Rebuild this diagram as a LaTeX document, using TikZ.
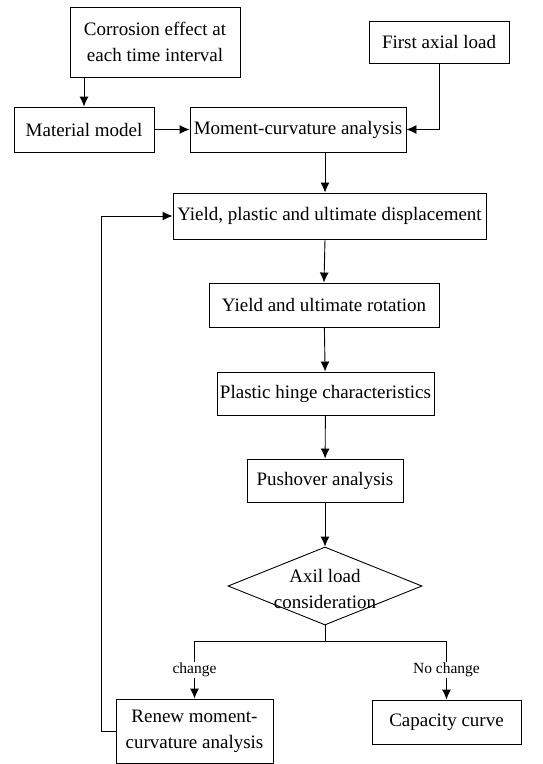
\documentclass[tikz,border=0pt]{standalone}
\usepackage{fontspec}
\setmainfont{Liberation Serif}
\usetikzlibrary{arrows, arrows.meta, positioning, shapes.geometric}

\begin{document}
\begin{tikzpicture}[x=1pt,y=-1pt,>={Latex[length=10pt,width=9pt]},line width=0.9pt,
    font=\fontsize{19}{26}\selectfont]
  \tikzstyle{block}=[draw, rectangle, inner sep=0pt, align=center]
  \tikzstyle{choice}=[draw, diamond, inner sep=0pt]
  \tikzstyle{tag}=[fill=white, inner sep=1pt, font=\fontsize{15.5}{18}\selectfont]

  \useasboundingbox (0,0) rectangle (542,764);

  \node[block,minimum width=170pt,minimum height=70pt] (corr)  at (155,42)    {Corrosion effect at\\each time interval};
  \node[block,minimum width=140pt,minimum height=42pt] (axial) at (439,42)    {First axial load};
  \node[block,minimum width=140pt,minimum height=45pt] (mat)   at (84,129.5)  {Material model};
  \node[block,minimum width=216pt,minimum height=45pt] (mc)    at (298,129.5) {Moment-curvature analysis};
  \node[block,minimum width=313pt,minimum height=46pt] (ypu)   at (329.5,216) {Yield, plastic and ultimate displacement};
  \node[block,minimum width=230pt,minimum height=44pt] (yur)   at (324,305)   {Yield and ultimate rotation};
  \node[block,minimum width=217pt,minimum height=43pt] (phc)   at (325.5,393.5) {Plastic hinge characteristics};
  \node[block,minimum width=156pt,minimum height=43pt] (push)  at (325,480.5) {Pushover analysis};
  \node[choice,minimum width=194pt,minimum height=78pt] (dec)  at (325,586)   {};
  \node[align=center,inner sep=0pt] (dectext) at (325,589) {Axil load\\consideration};
  \node[block,minimum width=157pt,minimum height=64pt] (renew) at (194.5,731) {Renew moment-\\curvature analysis};
  \node[block,minimum width=149pt,minimum height=44pt] (cap)   at (446.5,722) {Capacity curve};

  \coordinate (spine) at (325,152);
  \coordinate (split) at (325,641);

  \path[->]
  (corr.south -| mat.north) edge (mat.north)
  (mat)                     edge (mc)
  (mc.south -| spine)       edge (ypu.north -| spine)
  (ypu.south -| spine)      edge (yur.north)
  (yur)                     edge (phc)
  (phc)                     edge (push)
  (push)                    edge (dec)
  ;

  \draw[->] (axial.south) |- (mc.east);
  \draw[->] (dec.south) -- (split) -| node[tag,pos=0.75] {change} (renew.north);
  \draw[->] (split) -| node[tag,pos=0.75] {No change} (cap.north);
  \draw[->] (renew.west) -- ++(-14,0) |- (ypu.west);
\end{tikzpicture}
\end{document}
